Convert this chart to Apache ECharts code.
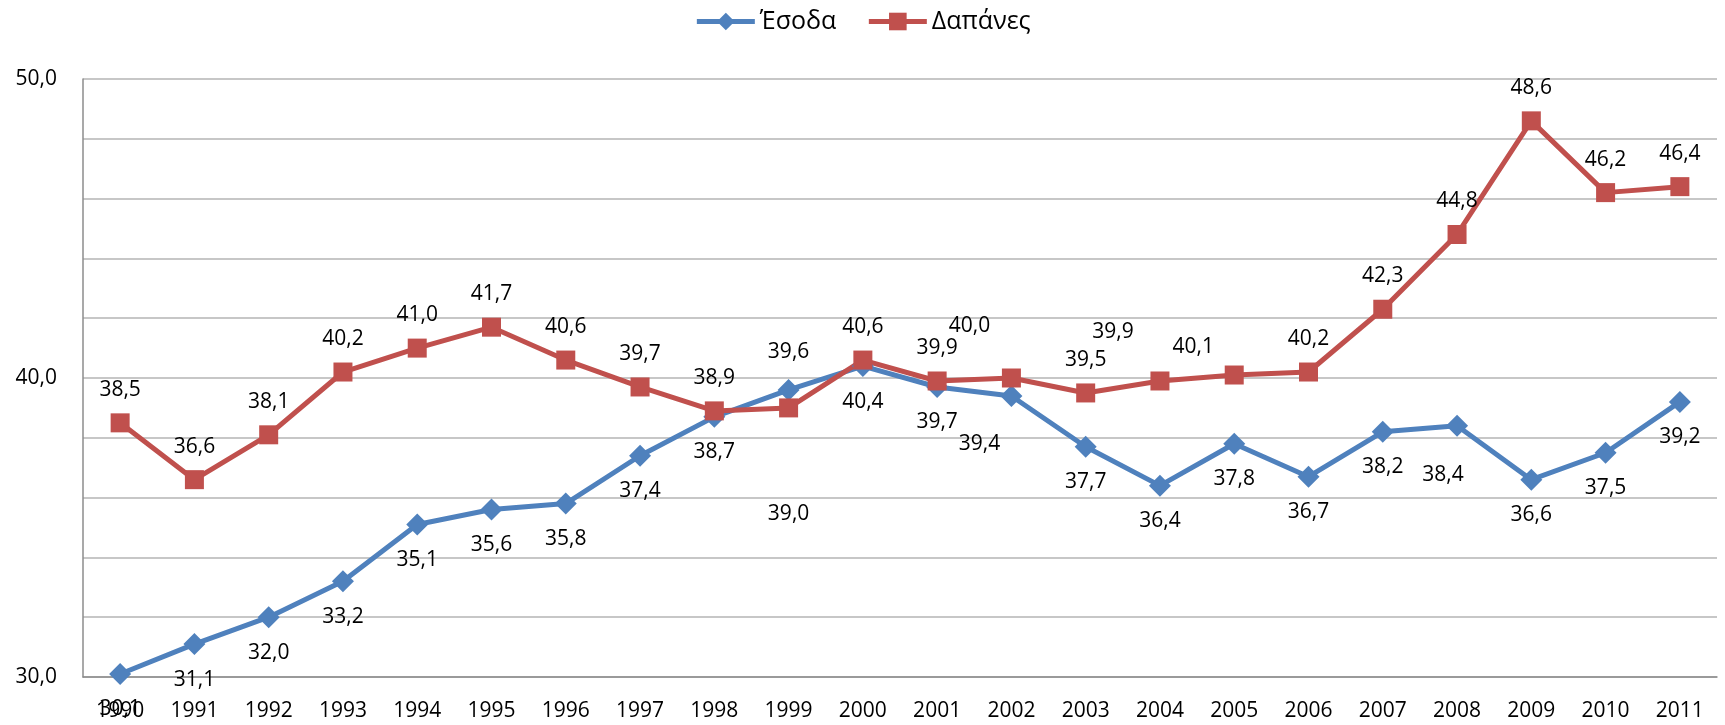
<!DOCTYPE html>
<html>
<head>
<meta charset="utf-8">
<title>Έσοδα - Δαπάνες</title>
<script src="https://cdn.jsdelivr.net/npm/echarts@6/dist/echarts.min.js"></script>
<style>
  html, body { margin: 0; padding: 0; background: #fff; }
  #chart { width: 1725px; height: 725px; }
</style>
</head>
<body>
<div id="chart"></div>
<script>
  // έτη
  var years = ['1990','1991','1992','1993','1994','1995','1996','1997','1998','1999','2000',
               '2001','2002','2003','2004','2005','2006','2007','2008','2009','2010','2011'];
  // Έσοδα (% ΑΕΠ)
  var esoda = [30.1, 31.1, 32.0, 33.2, 35.1, 35.6, 35.8, 37.4, 38.7, 39.6, 40.4,
               39.7, 39.4, 37.7, 36.4, 37.8, 36.7, 38.2, 38.4, 36.6, 37.5, 39.2];
  // Δαπάνες (% ΑΕΠ)
  var dapanes = [38.5, 36.6, 38.1, 40.2, 41.0, 41.7, 40.6, 39.7, 38.9, 39.0, 40.6,
                 39.9, 40.0, 39.5, 39.9, 40.1, 40.2, 42.3, 44.8, 48.6, 46.2, 46.4];

  // μετατοπίσεις ετικετών όπως τις έβαλε το excel
  var esodaLabelFix = {
    9: { position: 'top', distance: 16 },
    12: { offset: [-32, 13] },
    18: { offset: [-14, 14] }
  };
  var dapanesLabelFix = {
    9: { position: 'bottom', offset: [0, 73] },
    12: { offset: [-42, -19] },
    14: { offset: [-47, -16] },
    15: { offset: [-41, 5] }
  };

  var font = '"Open Sans", "DejaVu Sans", sans-serif';
  function fmt(v) { return Number(v).toFixed(1).replace('.', ','); }

  function withLabels(values, fixes) {
    return values.map(function (v, i) {
      return fixes[i] ? { value: v, label: fixes[i] } : v;
    });
  }

  var chart = echarts.init(document.getElementById('chart'));
  chart.setOption({
    animation: false,
    textStyle: { fontFamily: font },
    legend: {
      top: 4,
      left: 'center',
      itemWidth: 58,
      itemHeight: 22,
      itemGap: 30,
      lineStyle: { width: 5 },
      textStyle: { fontSize: 25, color: '#000', fontFamily: font },
      data: ['Έσοδα', 'Δαπάνες']
    },
    grid: { left: 83, right: 8, top: 79, bottom: 48 },
    xAxis: {
      type: 'category',
      boundaryGap: true,
      data: years,
      axisLine: { lineStyle: { color: '#8c8c8c', width: 1.5 } },
      axisTick: { show: false },
      axisLabel: { fontSize: 21, color: '#000', margin: 24, fontFamily: font }
    },
    yAxis: {
      type: 'value',
      min: 30,
      max: 50,
      interval: 2,
      axisLine: { show: true, lineStyle: { color: '#8c8c8c', width: 1.5 } },
      axisTick: { show: false },
      splitLine: { lineStyle: { color: '#b4b4b4', width: 1.5 } },
      axisLabel: {
        fontSize: 21, color: '#000', margin: 26, fontFamily: font,
        formatter: function (v) { return v % 10 === 0 ? fmt(v) : ''; }
      }
    },
    series: [
      {
        name: 'Έσοδα',
        type: 'line',
        data: withLabels(esoda, esodaLabelFix),
        symbol: 'diamond',
        symbolSize: 22,
        color: '#4F81BD',
        lineStyle: { width: 5, color: '#4F81BD' },
        itemStyle: { color: '#4F81BD' },
        label: {
          show: true, position: 'bottom', distance: 14,
          fontSize: 21, color: '#000', fontFamily: font,
          formatter: function (p) { return fmt(p.value); }
        }
      },
      {
        name: 'Δαπάνες',
        type: 'line',
        data: withLabels(dapanes, dapanesLabelFix),
        symbol: 'rect',
        symbolSize: 19,
        color: '#C0504D',
        lineStyle: { width: 5, color: '#C0504D' },
        itemStyle: { color: '#C0504D' },
        label: {
          show: true, position: 'top', distance: 13,
          fontSize: 21, color: '#000', fontFamily: font,
          formatter: function (p) { return fmt(p.value); }
        }
      }
    ]
  });
  window.addEventListener('resize', chart.resize);
</script>
</body>
</html>
